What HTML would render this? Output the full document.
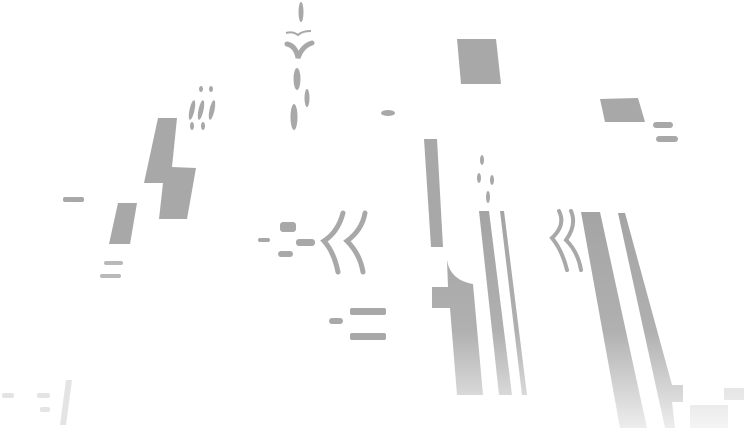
<!DOCTYPE html>
<html><head><meta charset="utf-8"><style>
html,body{margin:0;padding:0;background:#fff;width:744px;height:428px;overflow:hidden}
svg{display:block}
</style></head><body>
<svg width="744" height="428" viewBox="0 0 744 428" xmlns="http://www.w3.org/2000/svg">
<defs>
<linearGradient id="fade" gradientUnits="userSpaceOnUse" x1="0" y1="210" x2="0" y2="428">
<stop offset="0" stop-color="#a4a4a4"/><stop offset="0.55" stop-color="#b0b0b0"/><stop offset="1" stop-color="#ededed"/>
</linearGradient>
</defs>
<g fill="#a8a8a8">
<polygon points="457,39 496,39 501,84 461,84"/>
<polygon points="600,99 638,98 645,122 605,122"/>
<rect x="653" y="122" width="20" height="6" rx="3"/>
<rect x="656" y="136" width="22" height="6" rx="3"/>
<polygon points="424,139 437,139 443,247 431,247"/>
<ellipse cx="482" cy="160" rx="2" ry="5"/>
<ellipse cx="479" cy="178" rx="2" ry="5"/>
<ellipse cx="492" cy="180" rx="2" ry="5"/>
<ellipse cx="488" cy="197" rx="2" ry="6"/>
<path d="M559,211 Q566,225 552,238 Q562,250 567,270" fill="none" stroke="#a8a8a8" stroke-width="4" stroke-linecap="round"/>
<path d="M571,211 Q577,225 566,240 Q578,252 581,270" fill="none" stroke="#a8a8a8" stroke-width="4" stroke-linecap="round"/>
</g>
<g fill="url(#fade)">
<path d="M447,260 Q450,280 473,284 L483,395 L457,395 L450,308 L432,308 L432,287 L448,287 Z"/>
<polygon points="479,211 489,211 512,395 499,395"/>
<polygon points="500,211 504,211 527,395 522,395"/>
<polygon points="581,212 600,212 647,428 620,428"/>
<polygon points="618,213 625,213 672,385 683,385 683,402 672,402 675,428 665,428"/>
<rect x="690" y="405" width="38" height="23" opacity="0.6"/>
<rect x="724" y="388" width="20" height="12" opacity="0.6"/>
</g>
<g fill="#a8a8a8">
<polygon points="158,118 177,118 172,167 196,168 187,219 159,219 163,183 144,183"/>
<polygon points="118,203 137,203 130,244 109,244"/>
<rect x="63" y="197" width="21" height="5" rx="2"/>
<rect x="104" y="261" width="19" height="4" rx="2" opacity="0.8"/>
<rect x="100" y="274" width="21" height="4" rx="2" opacity="0.8"/>
<ellipse cx="201" cy="89" rx="2" ry="3"/><ellipse cx="211" cy="89" rx="2" ry="3"/>
<ellipse cx="192" cy="110" rx="2.5" ry="10" transform="rotate(12 192 110)"/>
<ellipse cx="201" cy="110" rx="2.5" ry="10" transform="rotate(12 201 110)"/>
<ellipse cx="212" cy="110" rx="2.5" ry="10" transform="rotate(12 212 110)"/>
<ellipse cx="192" cy="126" rx="2" ry="4"/><ellipse cx="203" cy="126" rx="2" ry="4"/>
<ellipse cx="301" cy="12" rx="2.5" ry="10"/>
<path d="M286,33 Q293,31 298,35 Q302,31 311,31" fill="none" stroke="#a8a8a8" stroke-width="2"/>
<path d="M287,44 Q296,46 298,58 Q302,46 312,43" fill="none" stroke="#a8a8a8" stroke-width="5" stroke-linecap="round"/>
<ellipse cx="297" cy="79" rx="3.5" ry="11"/>
<ellipse cx="307" cy="98" rx="2.5" ry="9"/>
<ellipse cx="294" cy="117" rx="3.5" ry="13"/>
<ellipse cx="388" cy="113" rx="7" ry="3"/>
<rect x="280" y="222" width="16" height="10" rx="3"/>
<rect x="258" y="238" width="12" height="4" rx="2"/>
<rect x="296" y="239" width="19" height="7" rx="3"/>
<rect x="278" y="251" width="15" height="6" rx="3"/>
<path d="M343,213 Q338,232 324,241 Q334,252 338,272" fill="none" stroke="#a8a8a8" stroke-width="5" stroke-linecap="round"/>
<path d="M365,213 Q362,230 347,241 Q360,254 363,272" fill="none" stroke="#a8a8a8" stroke-width="5" stroke-linecap="round"/>
<rect x="350" y="308" width="36" height="7" rx="2"/>
<rect x="329" y="318" width="14" height="6" rx="3"/>
<rect x="350" y="333" width="36" height="7" rx="2"/>
<g opacity="0.3">
<rect x="2" y="393" width="12" height="5" rx="2"/>
<rect x="37" y="393" width="13" height="5" rx="2"/>
<rect x="40" y="407" width="10" height="5" rx="2"/>
<polygon points="66,380 72,380 66,425 60,425"/>
</g>
</g>
</svg>
</body></html>
